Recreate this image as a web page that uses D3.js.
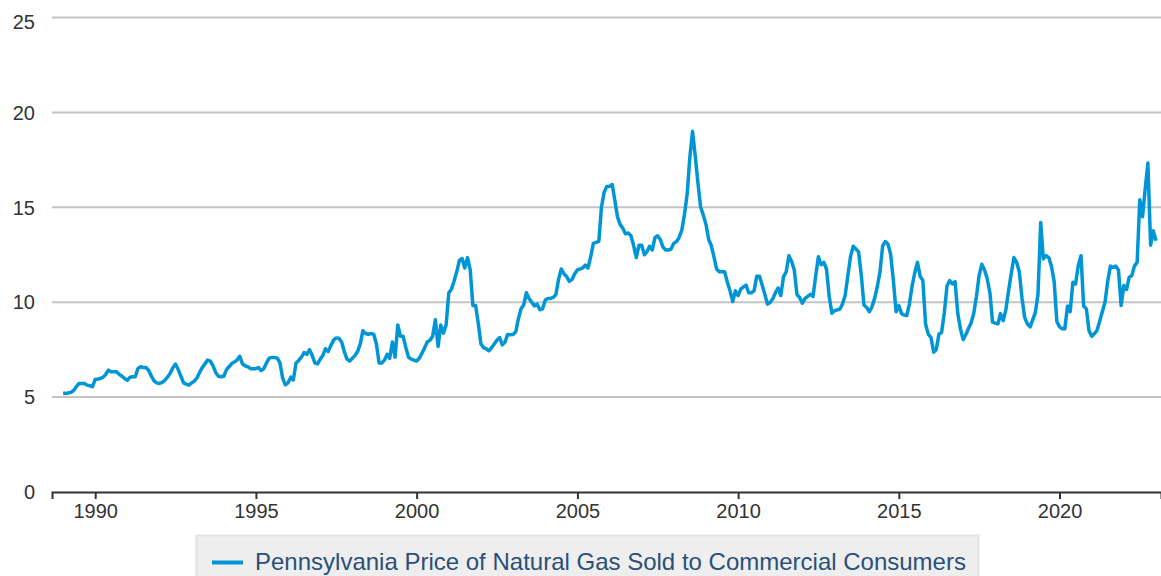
<!DOCTYPE html>
<html>
<head>
<meta charset="utf-8">
<script src="https://cdn.jsdelivr.net/npm/d3@7"></script>
<style>
  body { margin: 0; background: #fff; }
  svg { display: block; font-family: "Liberation Sans", Arial, sans-serif; }
</style>
</head>
<body>
<script>
var width = 1161,
    height = 576

var seriesName = "Pennsylvania Price of Natural Gas Sold to Commercial Consumers"

// monthly values, Jan 1989 onwards (one row per year)
var startYear = 1989
var prices = [
  5.2, 5.2, 5.22, 5.25, 5.35, 5.55, 5.72, 5.72, 5.72, 5.63, 5.6, 5.55,
  5.93, 5.95, 5.98, 6.05, 6.2, 6.42, 6.33, 6.33, 6.33, 6.2, 6.1, 5.98,
  5.89, 6.05, 6.07, 6.07, 6.5, 6.6, 6.56, 6.56, 6.4, 6.1, 5.85, 5.75,
  5.72, 5.78, 5.88, 6.05, 6.25, 6.55, 6.74, 6.45, 6.1, 5.75, 5.68, 5.63,
  5.75, 5.85, 6.0, 6.3, 6.55, 6.75, 6.95, 6.9, 6.65, 6.3, 6.1, 6.07,
  6.1, 6.45, 6.6, 6.77, 6.85, 6.95, 7.15, 6.75, 6.65, 6.6, 6.5, 6.5,
  6.5, 6.56, 6.4, 6.5, 6.8, 7.05, 7.09, 7.09, 7.05, 6.8, 6.0, 5.65,
  5.75, 6.05, 5.9, 6.8, 6.93, 7.1, 7.35, 7.25, 7.5, 7.2, 6.8, 6.75,
  7.0, 7.2, 7.55, 7.4, 7.7, 8.0, 8.12, 8.1, 7.9, 7.4, 7.0, 6.9,
  7.05, 7.2, 7.4, 7.8, 8.5, 8.35, 8.3, 8.35, 8.3, 7.8, 6.8, 6.8,
  6.95, 7.25, 7.05, 7.9, 7.1, 8.8, 8.2, 8.2, 7.6, 7.1, 7.0, 6.95,
  6.9, 7.05, 7.3, 7.6, 7.9, 8.0, 8.2, 9.07, 7.67, 8.8, 8.37, 8.8,
  10.5, 10.7, 11.1, 11.6, 12.2, 12.3, 11.8, 12.35, 11.7, 9.83, 9.83, 8.9,
  7.8, 7.6, 7.55, 7.44, 7.6, 7.8, 8.0, 8.14, 7.75, 7.9, 8.3, 8.28,
  8.3, 8.45, 9.1, 9.65, 9.85, 10.5, 10.2, 10.0, 9.8, 9.9, 9.6, 9.65,
  10.1, 10.2, 10.2, 10.25, 10.4, 11.2, 11.75, 11.5, 11.35, 11.1, 11.2, 11.5,
  11.7, 11.75, 11.8, 11.95, 11.8, 12.4, 13.1, 13.15, 13.2, 15.0, 15.8, 16.1,
  16.1, 16.2, 15.4, 14.5, 14.1, 13.9, 13.6, 13.65, 13.5, 13.0, 12.35, 13.0,
  13.0, 12.5, 12.65, 12.95, 12.75, 13.4, 13.5, 13.3, 12.9, 12.75, 12.75, 12.8,
  13.1, 13.2, 13.4, 13.8, 14.6, 15.7, 17.6, 19.0, 17.7, 16.3, 15.0, 14.6,
  14.1, 13.3, 13.0, 12.4, 11.75, 11.6, 11.62, 11.6, 11.05, 10.6, 10.03, 10.6,
  10.35, 10.7, 10.8, 10.9, 10.5, 10.5, 10.6, 11.37, 11.37, 10.9, 10.4, 9.9,
  10.0, 10.2, 10.5, 10.75, 10.35, 11.35, 11.6, 12.45, 12.15, 11.7, 10.4, 10.25,
  9.95, 10.2, 10.3, 10.42, 10.3, 11.4, 12.4, 11.97, 12.1, 11.75, 10.3, 9.42,
  9.55, 9.6, 9.63, 9.9, 10.35, 11.4, 12.4, 12.95, 12.8, 12.65, 11.4, 9.85,
  9.72, 9.5, 9.75, 10.2, 10.8, 11.6, 12.95, 13.2, 13.05, 12.5, 11.1, 9.5,
  9.82, 9.4, 9.33, 9.3, 9.9, 10.85, 11.55, 12.1, 11.35, 11.15, 8.85, 8.32,
  8.15, 7.37, 7.5, 8.32, 8.4, 9.45, 10.85, 11.14, 10.97, 11.08, 9.4, 8.6,
  8.03, 8.3, 8.6, 8.9, 9.4, 10.3, 11.4, 12.0, 11.7, 11.25, 10.5, 8.95,
  8.9, 8.86, 9.4, 9.03, 9.6, 10.6, 11.5, 12.35, 12.1, 11.6, 10.2, 9.2,
  8.85, 8.7, 9.05, 9.45, 10.4, 14.2, 12.28, 12.45, 12.35, 11.9, 11.1, 9.0,
  8.7, 8.6, 8.6, 9.8, 9.5, 11.05, 10.96, 11.93, 12.45, 9.8, 9.65, 8.5,
  8.2, 8.35, 8.5, 9.0, 9.5, 10.0, 11.1, 11.9, 11.84, 11.9, 11.7, 9.82,
  10.88, 10.67, 11.3, 11.4, 11.9, 12.1, 15.4, 14.5, 16.0, 17.33, 13.0, 13.77,
  13.24
]

var yTicks = [0, 5, 10, 15, 20, 25]
var xTickYears = [1990, 1995, 2000, 2005, 2010, 2015, 2020]

var data = prices.map(function(v, i) {
  return { date: new Date(startYear + Math.floor(i / 12), i % 12, 1), value: v }
})

var x = d3.scaleTime()
    .domain([new Date(1988, 7, 28), new Date(2023, 1, 27)])
    .range([52, width])

var y = d3.scaleLinear()
    .domain([0, 25])
    .range([492, 17.5])

var svg = d3.select("body").append("svg")
    .attr("width", width)
    .attr("height", height)

// gridlines
svg.append("g")
  .selectAll("line")
  .data(yTicks.filter(function(d) { return d > 0 }))
  .enter().append("line")
    .attr("x1", 52).attr("x2", width)
    .attr("y1", function(d) { return y(d) })
    .attr("y2", function(d) { return y(d) })
    .attr("stroke", "#c4c4c4")
    .attr("stroke-width", 2)

// y labels
svg.append("g")
  .selectAll("text")
  .data(yTicks)
  .enter().append("text")
    .attr("x", 35)
    .attr("y", function(d) { return y(d) + (d === 25 ? 4 : 0) })
    .attr("dy", "0.36em")
    .attr("text-anchor", "end")
    .attr("fill", "#333")
    .style("font-size", "20px")
    .text(function(d) { return d })

// x axis
var xAxis = d3.axisBottom(x)
    .tickValues(xTickYears.map(function(yr) { return new Date(yr, 0, 1) }))
    .tickFormat(d3.timeFormat("%Y"))
    .tickSize(7)
    .tickPadding(5)

var gx = svg.append("g")
    .attr("transform", "translate(0," + y(0) + ")")
    .call(xAxis)

gx.select(".domain").attr("stroke", "#333").attr("stroke-width", 2)
gx.selectAll(".tick line").attr("stroke", "#333").attr("stroke-width", 2)
gx.selectAll(".tick text")
    .attr("fill", "#333")
    .style("font-size", "20px")
    .style("font-family", "Liberation Sans, Arial, sans-serif")

// the series
var line = d3.line()
    .x(function(d) { return x(d.date) })
    .y(function(d) { return y(d.value) })

svg.append("path")
    .datum(data)
    .attr("fill", "none")
    .attr("stroke", "#0096d6")
    .attr("stroke-width", 3.5)
    .attr("stroke-linejoin", "round")
    .attr("d", line)

// legend
var legend = svg.append("g")

legend.append("rect")
    .attr("x", 196.5).attr("y", 535.5)
    .attr("width", 782).attr("height", 50)
    .attr("fill", "#eeeeee")
    .attr("stroke", "#e2e2e2")
    .attr("stroke-width", 2)

legend.append("line")
    .attr("x1", 212).attr("x2", 243)
    .attr("y1", 562.5).attr("y2", 562.5)
    .attr("stroke", "#0096d6")
    .attr("stroke-width", 4)

legend.append("text")
    .attr("x", 255).attr("y", 570)
    .attr("fill", "#2a5078")
    .style("font-size", "24px")
    .text(seriesName)
</script>
</body>
</html>
